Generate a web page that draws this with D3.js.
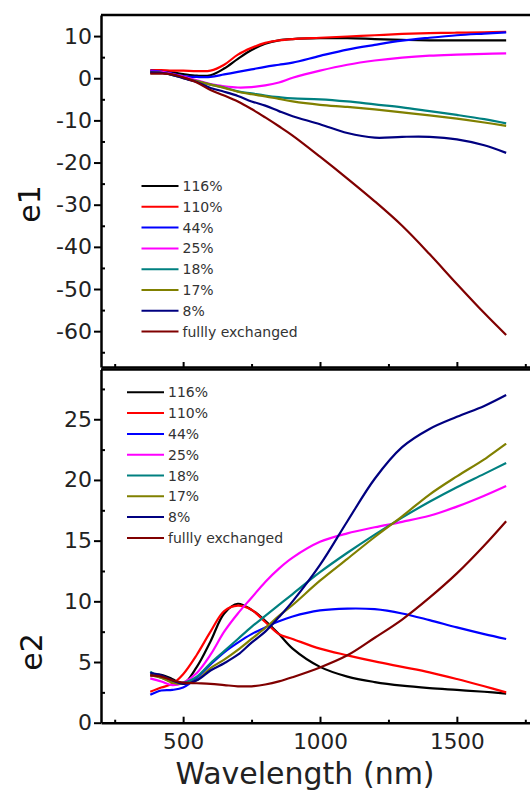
<!DOCTYPE html>
<html>
<head>
<meta charset="utf-8">
<script src="https://cdnjs.cloudflare.com/ajax/libs/d3/7.8.5/d3.min.js"></script>
<style>
body { margin: 0; background: #fff; }
</style>
</head>
<body>
<script>
// wavelength grid (nm) shared by all curves
var wavelength = [380, 420, 460, 500, 550, 600, 650, 700, 750, 800, 850, 900, 1000, 1100, 1200, 1300, 1400, 1500, 1600, 1680];

var labels = ["116%", "110%", "44%", "25%", "18%", "17%", "8%", "fullly exchanged"];
var colors = ["#000000", "#ff0000", "#0000ff", "#ff00ff", "#008080", "#808000", "#000080", "#800000"];

// e1 (real part)
var e1_116 = [1.6, 1.6, 1.4, 1.0, 0.6, 0.7, 2.3, 4.6, 6.7, 8.2, 9.0, 9.3, 9.5, 9.5, 9.3, 9.1, 9.0, 9.0, 9.0, 9.0];
var e1_110 = [1.9, 1.9, 1.8, 1.8, 1.7, 1.8, 3.2, 5.6, 7.2, 8.4, 9.0, 9.3, 9.6, 9.9, 10.2, 10.5, 10.7, 10.8, 10.9, 11.0];
var e1_44 = [1.8, 1.6, 1.1, 0.5, 0.3, 0.3, 0.9, 1.5, 2.1, 2.7, 3.2, 3.7, 5.3, 6.8, 7.9, 8.9, 9.6, 10.2, 10.6, 10.9];
var e1_25 = [1.6, 1.5, 1.0, 0.4, -0.5, -1.4, -1.9, -2.2, -2.1, -1.7, -1.0, 0.1, 1.8, 3.2, 4.2, 4.9, 5.35, 5.6, 5.8, 5.9];
var e1_18 = [1.4, 1.3, 0.8, 0.1, -0.7, -1.5, -2.2, -3.1, -3.6, -4.1, -4.5, -4.8, -5.0, -5.5, -6.2, -6.9, -7.8, -8.7, -9.7, -10.7];
var e1_17 = [1.4, 1.3, 0.8, 0.1, -0.7, -1.5, -2.3, -3.2, -3.8, -4.3, -4.9, -5.5, -6.3, -6.8, -7.4, -8.1, -8.8, -9.6, -10.5, -11.3];
var e1_8 = [1.4, 1.3, 0.8, 0.0, -0.9, -2.3, -3.2, -4.2, -5.5, -6.5, -7.8, -9.0, -10.9, -13.0, -14.1, -13.9, -13.9, -14.5, -15.9, -17.7];
var e1_full = [1.1, 1.1, 0.9, 0.2, -1.0, -2.8, -4.1, -5.5, -7.3, -9.3, -11.4, -13.6, -18.6, -23.8, -29.2, -35.0, -41.7, -48.8, -55.7, -60.9];

// e2 (imaginary part)
var e2_116 = [3.9, 3.95, 3.6, 3.2, 4.6, 6.7, 9.0, 9.8, 9.3, 8.4, 7.3, 6.1, 4.6, 3.8, 3.35, 3.05, 2.85, 2.7, 2.55, 2.4];
var e2_110 = [2.55, 2.9, 3.2, 4.0, 5.6, 7.5, 9.2, 9.65, 9.3, 8.3, 7.3, 6.9, 6.1, 5.55, 5.05, 4.6, 4.15, 3.6, 3.0, 2.5];
var e2_44 = [2.3, 2.65, 2.7, 2.9, 3.7, 4.8, 5.8, 6.6, 7.3, 7.85, 8.35, 8.75, 9.25, 9.4, 9.35, 9.0, 8.45, 7.85, 7.3, 6.9];
var e2_25 = [3.65, 3.4, 3.1, 3.3, 4.1, 5.6, 7.5, 9.0, 10.3, 11.6, 12.7, 13.6, 14.9, 15.6, 16.1, 16.55, 17.05, 17.8, 18.7, 19.5];
var e2_18 = [4.2, 3.7, 3.4, 3.3, 3.8, 4.9, 5.9, 6.9, 7.9, 8.8, 9.7, 10.6, 12.4, 14.0, 15.5, 16.9, 18.2, 19.4, 20.5, 21.4];
var e2_17 = [3.9, 3.7, 3.3, 3.2, 3.5, 4.5, 5.2, 6.0, 6.9, 7.8, 8.8, 9.7, 11.7, 13.5, 15.3, 17.0, 18.8, 20.3, 21.7, 23.0];
var e2_8 = [4.1, 3.9, 3.5, 3.2, 3.5, 4.3, 4.9, 5.6, 6.6, 7.5, 8.7, 10.0, 13.0, 16.6, 20.1, 22.7, 24.2, 25.2, 26.1, 27.0];
var e2_full = [3.9, 3.8, 3.5, 3.3, 3.25, 3.2, 3.1, 3.0, 3.0, 3.15, 3.4, 3.75, 4.55, 5.55, 7.0, 8.5, 10.3, 12.3, 14.6, 16.6];

var e1Series = [e1_116, e1_110, e1_44, e1_25, e1_18, e1_17, e1_8, e1_full];
var e2Series = [e2_116, e2_110, e2_44, e2_25, e2_18, e2_17, e2_8, e2_full];

var xTicks = [500, 1000, 1500];
var xMinor = [250, 750, 1250, 1750];
var e1Ticks = [-60, -50, -40, -30, -20, -10, 0, 10];
var e1Minor = [-65, -55, -45, -35, -25, -15, -5, 5];
var e2Ticks = [0, 5, 10, 15, 20, 25];
var e2Minor = [2.5, 7.5, 12.5, 17.5, 22.5, 27.5];

var font = "DejaVu Sans, sans-serif";

var svg = d3.select("body").append("svg")
  .attr("width", 530)
  .attr("height", 792);

var x = d3.scaleLinear().domain([200, 1800]).range([101, 539]);
var y1 = d3.scaleLinear().domain([-68.5, 15]).range([367, 15]);
var y2 = d3.scaleLinear().domain([0, 29.1]).range([722.7, 369.5]);

function styleAxis(g, size) {
  g.attr("font-family", font).attr("font-size", size);
  g.select(".domain").attr("stroke", "#000").attr("stroke-width", 2.5);
  g.selectAll(".tick line").attr("stroke", "#000").attr("stroke-width", 2);
  g.selectAll(".tick text").attr("fill", "#222");
}

function panel(y, series, majors, minors, legendX, legendY) {
  var line = d3.line()
    .x(function (d, i) { return x(wavelength[i]); })
    .y(function (d) { return y(d); })
    .curve(d3.curveCatmullRom);

  svg.append("g").selectAll("path")
    .data(series)
    .enter().append("path")
    .attr("d", line)
    .attr("fill", "none")
    .attr("stroke", function (d, i) { return colors[i]; })
    .attr("stroke-width", 2.2);

  // left axis: major ticks outside, minor inside
  var left = svg.append("g").attr("transform", "translate(101,0)")
    .call(d3.axisLeft(y).tickValues(majors).tickSize(7).tickSizeOuter(0).tickPadding(2)
      .tickFormat(function (d) { return d; }));
  styleAxis(left, 22);
  var leftMinor = svg.append("g").attr("transform", "translate(101,0)")
    .call(d3.axisRight(y).tickValues(minors).tickSize(4).tickSizeOuter(0).tickFormat(""));
  styleAxis(leftMinor, 22);
  leftMinor.select(".domain").remove();

  // right frame
  svg.append("line")
    .attr("x1", 539).attr("x2", 539)
    .attr("y1", y.range()[0]).attr("y2", y.range()[1])
    .attr("stroke", "#000").attr("stroke-width", 2.5);

  // legend
  var leg = svg.append("g").attr("font-family", font).attr("font-size", 14);
  labels.forEach(function (lab, i) {
    var yy = legendY + i * 20.8;
    leg.append("line")
      .attr("x1", legendX).attr("x2", legendX + 37)
      .attr("y1", yy).attr("y2", yy)
      .attr("stroke", colors[i]).attr("stroke-width", 2);
    leg.append("text")
      .attr("x", legendX + 41).attr("y", yy)
      .attr("dy", "0.36em")
      .attr("fill", "#333")
      .text(lab);
  });
}

panel(y1, e1Series, e1Ticks, e1Minor, 141.5, 186);
panel(y2, e2Series, e2Ticks, e2Minor, 127, 392.3);

// top frame of upper panel
svg.append("line")
  .attr("x1", 101).attr("x2", 539).attr("y1", 15).attr("y2", 15)
  .attr("stroke", "#000").attr("stroke-width", 2.5);

// shared boundary between panels, ticks pointing into the upper panel
var mid = svg.append("g").attr("transform", "translate(0,367)")
  .call(d3.axisBottom(x).tickValues(xTicks).tickSize(-5).tickSizeOuter(0).tickFormat(""));
styleAxis(mid, 22);
var midMinor = svg.append("g").attr("transform", "translate(0,367)")
  .call(d3.axisBottom(x).tickValues(xMinor).tickSize(-3).tickSizeOuter(0).tickFormat(""));
styleAxis(midMinor, 22);
midMinor.select(".domain").remove();

svg.append("line")
  .attr("x1", 101).attr("x2", 539).attr("y1", 369.5).attr("y2", 369.5)
  .attr("stroke", "#000").attr("stroke-width", 2.5);

// bottom x axis, ticks inside
var bottom = svg.append("g").attr("transform", "translate(0,722.7)")
  .call(d3.axisBottom(x).tickValues(xTicks).tickSize(-6).tickSizeOuter(0).tickPadding(11)
    .tickFormat(d3.format("d")));
styleAxis(bottom, 21.5);
var bottomMinor = svg.append("g").attr("transform", "translate(0,722.7)")
  .call(d3.axisBottom(x).tickValues(xMinor).tickSize(-3).tickSizeOuter(0).tickFormat(""));
styleAxis(bottomMinor, 22);
bottomMinor.select(".domain").remove();

// axis titles
svg.append("text")
  .attr("x", 305).attr("y", 784)
  .attr("text-anchor", "middle")
  .attr("font-family", font).attr("font-size", 30)
  .attr("fill", "#222")
  .text("Wavelength (nm)");

svg.append("text")
  .attr("transform", "translate(40,204) rotate(-90)")
  .attr("text-anchor", "middle")
  .attr("font-family", font).attr("font-size", 30)
  .attr("fill", "#111")
  .text("e1");

svg.append("text")
  .attr("transform", "translate(41.5,652) rotate(-90)")
  .attr("text-anchor", "middle")
  .attr("font-family", font).attr("font-size", 30)
  .attr("fill", "#111")
  .text("e2");
</script>
</body>
</html>
